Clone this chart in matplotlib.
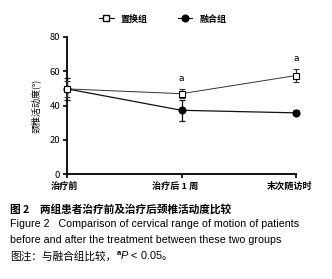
import matplotlib
matplotlib.use("Agg")
import matplotlib.pyplot as plt
from matplotlib.lines import Line2D
from matplotlib.transforms import blended_transform_factory, ScaledTranslation

plt.rcParams['font.family'] = ['Noto Sans CJK SC', 'DejaVu Sans']
plt.rcParams['mathtext.fontset'] = 'custom'
plt.rcParams['mathtext.rm'] = 'Liberation Sans'
plt.rcParams['mathtext.it'] = 'Liberation Sans:italic'
plt.rcParams['mathtext.bf'] = 'Liberation Sans:bold'

categories = ["治疗前", "治疗后 1 周", "末次随访时"]
replace_mean = [49.7, 46.9, 57.5]
replace_err = [4.7, 2.7, 3.9]
fusion_mean = [49.7, 37.2, 35.7]
fusion_err = [6.4, 6.2, 1.5]
sig_labels = ["", "a", "a"]
yticks = [0, 20, 40, 60, 80]

W, H = 332, 279
fig = plt.figure(figsize=(W / 100, H / 100), dpi=100)
ax = fig.add_axes([67 / W, 1 - 174 / H, (296 - 67) / W, (174 - 37) / H])

x = list(range(len(categories)))
ax.errorbar(x, fusion_mean, yerr=fusion_err, color='#111111', marker='o', ms=4.8,
            mfc='black', mec='black', lw=0.9, elinewidth=0.9, capsize=2.3, capthick=0.9,
            clip_on=False, zorder=3)
ax.errorbar(x, replace_mean, yerr=replace_err, color='#333333', marker='s', ms=4.5,
            mfc='white', mec='black', mew=0.8, lw=0.7, elinewidth=0.9, capsize=2.3,
            capthick=0.9, clip_on=False, zorder=4)

for xi, m, e, s in zip(x, replace_mean, replace_err, sig_labels):
    if s:
        ax.text(xi, m + e + 6, s, ha='center', va='center', fontsize=6.5,
                family=['DejaVu Sans'])

ax.set_xlim(0, 2)
ax.set_ylim(0, 80)
ax.set_yticks(yticks)
ax.set_xticks(x)
ax.set_xticklabels([])
offsets = [-3, -6, -6]
for xi, lab, off in zip(x, categories, offsets):
    trans = blended_transform_factory(ax.transData, ax.transAxes) + \
        ScaledTranslation(off / 100, -12 / 100, fig.dpi_scale_trans)
    ax.text(xi, 0, lab, transform=trans, ha='center', va='center', fontsize=6.6,
            fontweight='bold', clip_on=False)
ax.tick_params(axis='y', labelsize=6.8, length=3, width=1.2, pad=2)
ax.tick_params(axis='x', length=3, width=1.2, pad=2)
for sp in ['top', 'right']:
    ax.spines[sp].set_visible(False)
for sp in ['left', 'bottom']:
    ax.spines[sp].set_linewidth(1.3)
ax.set_ylabel("颈椎活动度(°)", fontsize=6.5, labelpad=6)

handles = [
    Line2D([], [], color='black', lw=0.8, marker='s', mfc='white', mec='black', ms=4.8),
    Line2D([], [], color='black', lw=0.8, marker='o', mfc='black', mec='black', ms=4.8),
]
fig.legend(handles, ["置换组", "融合组"], loc='center', bbox_to_anchor=(0.49, 1 - 19 / H),
           ncol=2, frameon=False, handlelength=1.6, columnspacing=3.3,
           handletextpad=0.8, prop={'weight': 'bold', 'size': 6.5})

fig.text(10 / W, 1 - 209 / H, "图 2　两组患者治疗前及治疗后颈椎活动度比较",
         fontsize=7.7, fontweight='bold', va='center')
fig.text(10 / W, 1 - 224 / H,
         "Figure 2   Comparison of cervical range of motion of patients",
         fontsize=7.7, va='center', family=['Liberation Sans'])
fig.text(10 / W, 1 - 240 / H,
         "before and after the treatment between these two groups",
         fontsize=7.7, va='center', family=['Liberation Sans'])
fig.text(10 / W, 1 - 256 / H, "图注：与融合组比较，",
         fontsize=7.7, va='center')
fig.text(116 / W, 1 - 256 / H, "$^{\\mathbf{a}}P$ < 0.05",
         fontsize=7.8, va='center', family=['Liberation Sans'])
fig.text(162 / W, 1 - 256 / H, "。", fontsize=7.7, va='center')

fig.savefig("out.png", dpi=100)
